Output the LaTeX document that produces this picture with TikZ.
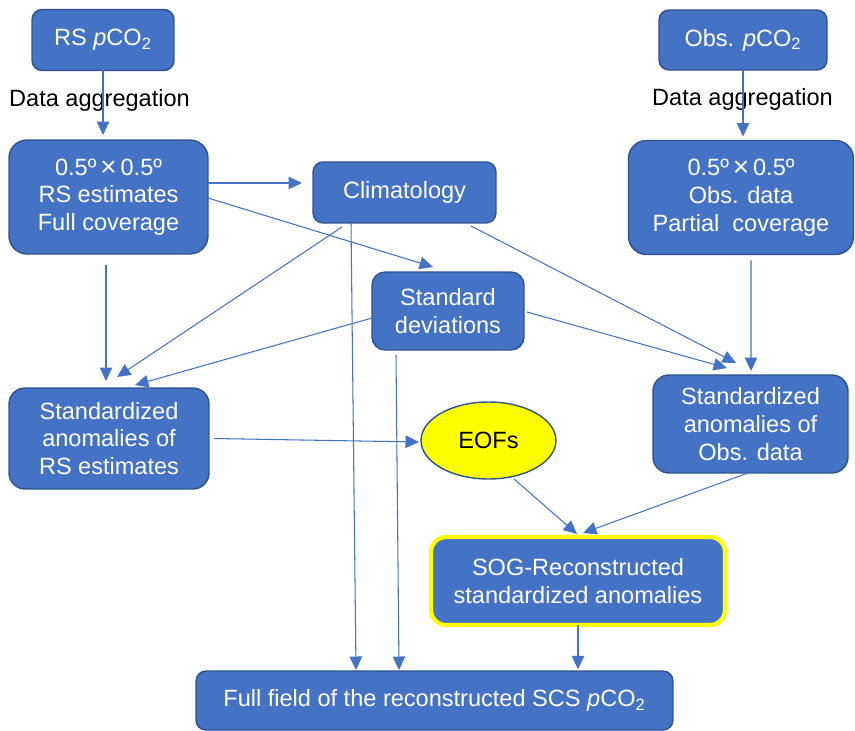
\documentclass[tikz,border=0pt]{standalone}
\usepackage{fontspec}
\setmainfont{Liberation Sans}
\usepackage{tikz}
\usetikzlibrary{arrows.meta, shapes.geometric, calc}
\definecolor{boxblue}{HTML}{4472C4}
\definecolor{edgeblue}{HTML}{2F528F}
\definecolor{eofyellow}{HTML}{FFFF00}
\newcommand{\bigtimes}{\,\raisebox{-0.6pt}{\fontsize{16}{15.8}\selectfont ×}\,}

\begin{document}
\begin{tikzpicture}[
  x=0.02cm, y=-0.02cm,
  box/.style={draw=edgeblue, fill=boxblue, rectangle, rounded corners=0.2cm, align=center, text=white, line width=0.8pt, outer sep=0pt, font=\fontsize{13.4}{15.8}\selectfont},
  bigbox/.style={box, rounded corners=0.36cm},
  note/.style={align=center, font=\fontsize{13.4}{15.8}\selectfont},
  link/.style={->, draw=boxblue, line width=0.6pt},
  >={Triangle[length=2.7mm, width=2.5mm]}
]
\useasboundingbox (0,0) rectangle (855,730);

\node[box, minimum width=2.84cm, minimum height=1.22cm] (rspco) at (103,40) {RS \textit{p}CO\textsubscript{2}};
\node[box, minimum width=3.36cm, minimum height=1.2cm] (obspco) at (743,40) {Obs. \textit{p}CO\textsubscript{2}};
\node[bigbox, minimum width=3.98cm, minimum height=2.28cm] (rsgrid) at (108.5,197) {0.5º\bigtimes0.5º\\RS estimates\\Full coverage};
\node[bigbox, minimum width=4.5cm, minimum height=2.28cm] (obsgrid) at (741,197.5) {0.5º\bigtimes0.5º\\Obs. data\\Partial\ \ coverage};
\node[box, minimum width=3.66cm, minimum height=1.22cm] (clim) at (404.5,192.5) {Climatology};
\node[box, rounded corners=0.26cm, minimum width=3.04cm, minimum height=1.56cm] (stddev) at (448,311) {Standard\\deviations};
\node[bigbox, rounded corners=0.32cm, minimum width=4cm, minimum height=2.02cm] (anomrs) at (109,438.5) {Standardized\\anomalies of\\RS estimates};
\node[bigbox, rounded corners=0.32cm, minimum width=3.9cm, minimum height=1.96cm] (anomobs) at (750.5,424) {Standardized\\anomalies of\\Obs. data};
\node[draw=edgeblue, fill=eofyellow, ellipse, line width=0.8pt, outer sep=0pt, minimum width=2.7cm, minimum height=1.54cm, font=\fontsize{13.4}{15.8}\selectfont] (eofs) at (488.5,440.5) {EOFs};
\node[box, draw=eofyellow, line width=2.4pt, rounded corners=0.3cm, minimum width=5.88cm, minimum height=1.76cm] (sog) at (578,581) {SOG-Reconstructed\\standardized anomalies};
\node[box, minimum width=9.54cm, minimum height=1.18cm] (full) at (434.5,700.5) {Full field of the reconstructed SCS \textit{p}CO\textsubscript{2}};

\node[note] (aggrs) at (99.5,100) {Data aggregation};
\node[note] (aggobs) at (742.5,99) {Data aggregation};

% inputs
\draw[link, shorten >=0.1cm] (rspco.south) -- (rspco.south |- rsgrid.north);
\draw[link, shorten >=0.08cm] (obspco.south) -- (obspco.south |- obsgrid.north);
\draw[link] ($(rsgrid.east)+(0,-14)$) -- ($(clim.west)+(-11,-9.5)$);
\draw[link] ($(rsgrid.east)+(0,1)$) -- ($(stddev.north)+(-15,-5)$);

% towards the anomalies
\draw[link] ($(rsgrid.south)+(-2.5,11)$) -- ($(anomrs.north)+(-3,-7)$);
\draw[link] ($(clim.south)+(-62.5,4)$) -- ($(anomrs.north)+(8,-11)$);
\draw[link] ($(stddev.west)+(0,7)$) -- ($(anomrs.north)+(26,-3)$);
\draw[link] ($(clim.south)+(66.5,3)$) -- ($(anomobs.north)+(-14.5,-12)$);
\draw[link] ($(stddev.east)+(3,1)$) -- ($(anomobs.north)+(-23.5,-7)$);
\draw[link] ($(obsgrid.south)+(10,6)$) -- ($(anomobs.north)+(0.5,-4)$);

% reconstruction
\draw[link] ($(anomrs.east)+(5,0)$) -- ($(eofs.west)+(-2,1.5)$);
\draw[link] ($(eofs.south)+(25.5,0)$) -- ($(sog.north)+(-1,-3)$);
\draw[link] ($(anomobs.south)+(-2.5,0)$) -- ($(sog.north)+(5,-4)$);

% back to the full field
\draw[link] ($(clim.south)+(-53.5,0)$) -- ($(full.north)+(-78.5,-1)$);
\draw[link] ($(stddev.south)+(-52,5)$) -- ($(full.north)+(-35.5,-1)$);
\draw[link, shorten >=1pt] (sog.south) -- (sog.south |- full.north);
\end{tikzpicture}
\end{document}
